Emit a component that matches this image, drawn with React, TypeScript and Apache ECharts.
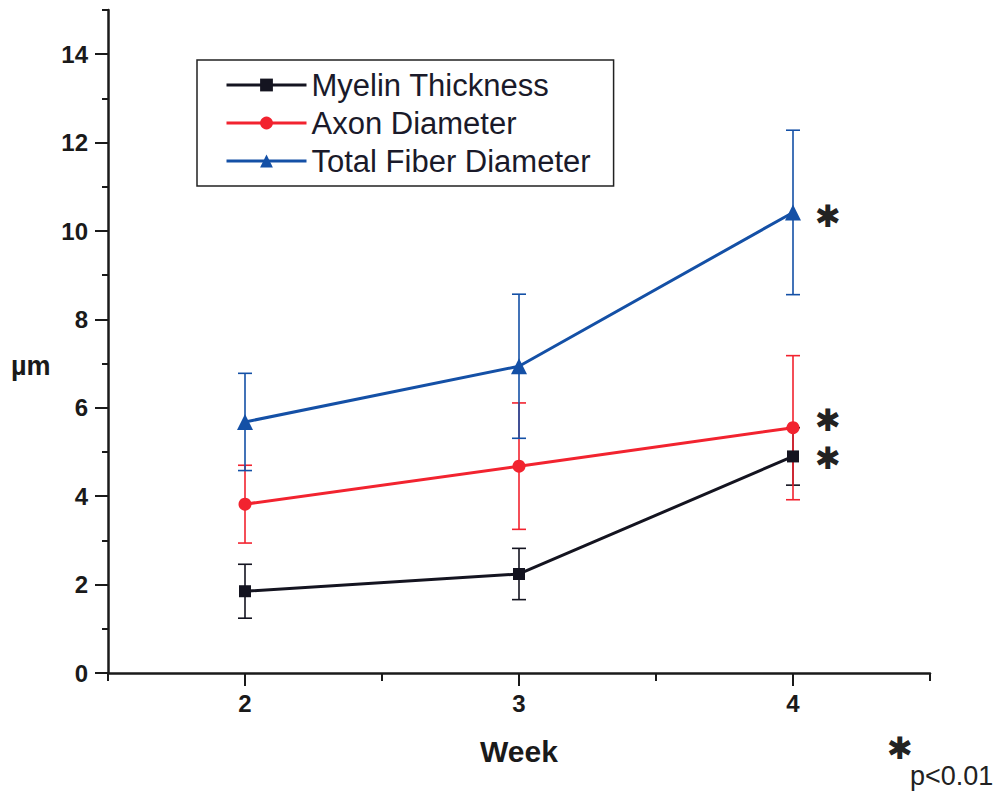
import React, { useEffect, useRef } from "react";
import * as echarts from "echarts";

// Weeks after injury and fiber measurements (µm), mean ± SD
const weeks = [2, 3, 4];
const myelinThickness = [1.85, 2.24, 4.9];
const myelinSD = [0.61, 0.58, 0.65];
const axonDiameter = [3.82, 4.68, 5.55];
const axonSD = [0.88, 1.43, 1.63];
const totalFiberDiameter = [5.68, 6.94, 10.42];
const totalFiberSD = [1.1, 1.63, 1.86];

const seriesNames = ["Myelin Thickness", "Axon Diameter", "Total Fiber Diameter"];
const colors = ["#141420", "#f2232f", "#1450a6"];
const symbols = ["rect", "circle", "triangle"];
const symbolSizes = [12, 13, 16];

const yTickLabels = [0, 2, 4, 6, 8, 10, 12, 14];
const xTickLabels = [2, 3, 4];

const FONT = "'Liberation Sans', Arial, sans-serif";

function errorBarSeries(name: string, values: number[], sd: number[], color: string) {
  const data = weeks.map((w, i) => [w, values[i] - sd[i], values[i] + sd[i]]);
  return {
    type: "custom",
    name: name + " SD",
    xAxisIndex: 0,
    yAxisIndex: 0,
    data,
    z: 1,
    silent: true,
    renderItem: (_params: any, api: any) => {
      const x = api.value(0);
      const lo = api.coord([x, api.value(1)]);
      const hi = api.coord([x, api.value(2)]);
      const half = 7;
      const style = { stroke: color, lineWidth: 1.6 };
      return {
        type: "group",
        children: [
          { type: "line", shape: { x1: lo[0], y1: lo[1], x2: hi[0], y2: hi[1] }, style },
          { type: "line", shape: { x1: lo[0] - half, y1: lo[1], x2: lo[0] + half, y2: lo[1] }, style },
          { type: "line", shape: { x1: hi[0] - half, y1: hi[1], x2: hi[0] + half, y2: hi[1] }, style },
        ],
      };
    },
  };
}

function lineSeries(idx: number, values: number[]) {
  return {
    type: "line",
    name: seriesNames[idx],
    xAxisIndex: 0,
    yAxisIndex: 0,
    data: weeks.map((w, i) => [w, values[i]]),
    symbol: symbols[idx],
    symbolSize: symbolSizes[idx],
    showAllSymbol: true,
    z: 3,
    lineStyle: { color: colors[idx], width: 3 },
    itemStyle: { color: colors[idx], borderWidth: 0 },
  };
}

// significance marks (p < 0.01), centred on (cx, cy)
function star(cx: number, cy: number) {
  return {
    type: "text",
    x: cx,
    y: cy,
    style: {
      text: "\u2731",
      font: `bold 31px 'DejaVu Sans', sans-serif`,
      align: "center",
      verticalAlign: "middle",
      fill: "#222",
    },
  };
}

export default function App() {
  const ref = useRef<HTMLDivElement>(null);

  useEffect(() => {
    if (!ref.current) return;
    const chart = echarts.init(ref.current, null, { renderer: "svg" });
    const axisColor = "#1a1a1a";

    chart.setOption({
      animation: false,
      backgroundColor: "#ffffff",
      textStyle: { fontFamily: FONT },
      grid: [
        // main plotting area
        { left: 108, right: 71, top: 10, bottom: 120 },
        // long y ticks and labels (0..14)
        { left: 108, right: 71, top: 54.2, bottom: 120 },
        // long x ticks and labels (2..4)
        { left: 245, right: 208, top: 10, bottom: 120 },
      ],
      xAxis: [
        {
          type: "value",
          gridIndex: 0,
          min: 1.5,
          max: 4.5,
          interval: 0.5,
          axisLine: { show: true, lineStyle: { color: axisColor, width: 2.5 } },
          axisTick: { show: true, length: 8, lineStyle: { color: axisColor, width: 2 } },
          axisLabel: { show: false },
          splitLine: { show: false },
        },
        { type: "value", gridIndex: 1, min: 1.5, max: 4.5, show: false },
        {
          type: "value",
          gridIndex: 2,
          min: 2,
          max: 4,
          interval: 1,
          axisLine: { show: false },
          axisTick: { show: true, length: 13, lineStyle: { color: axisColor, width: 2 } },
          axisLabel: {
            show: true,
            margin: 18,
            color: axisColor,
            fontFamily: FONT,
            fontWeight: "bold",
            fontSize: 24,
            formatter: (v: number) => (xTickLabels.includes(v) ? String(v) : ""),
          },
          splitLine: { show: false },
          name: "Week",
          nameLocation: "middle",
          nameGap: 63,
          nameTextStyle: { color: axisColor, fontFamily: FONT, fontWeight: "bold", fontSize: 30 },
        },
      ],
      yAxis: [
        {
          type: "value",
          gridIndex: 0,
          min: 0,
          max: 15,
          interval: 1,
          axisLine: { show: true, lineStyle: { color: axisColor, width: 2.5 } },
          axisTick: { show: true, length: 6, lineStyle: { color: axisColor, width: 2 } },
          axisLabel: { show: false },
          splitLine: { show: false },
        },
        {
          type: "value",
          gridIndex: 1,
          min: 0,
          max: 14,
          interval: 2,
          axisLine: { show: false },
          axisTick: { show: true, length: 13, lineStyle: { color: axisColor, width: 2 } },
          axisLabel: {
            show: true,
            margin: 20,
            color: axisColor,
            fontFamily: FONT,
            fontWeight: "bold",
            fontSize: 24,
            formatter: (v: number) => (yTickLabels.includes(v) ? String(v) : ""),
          },
          splitLine: { show: false },
        },
        { type: "value", gridIndex: 2, min: 0, max: 15, show: false },
      ],
      legend: {
        left: 197,
        top: 60,
        orient: "vertical",
        data: seriesNames,
        itemWidth: 80,
        itemHeight: 16,
        itemGap: 6,
        padding: [9, 23, 9, 28],
        borderColor: "#222",
        borderWidth: 1.5,
        lineStyle: { width: 3 },
        textStyle: { color: "#1a1a2a", fontFamily: FONT, fontSize: 31, lineHeight: 32 },
      },
      graphic: [
        {
          type: "text",
          left: 11,
          top: 352,
          style: { text: "µm", font: `bold 27px ${FONT}`, fill: "#1a1a1a" },
        },
        star(828, 216),
        star(828, 420),
        star(828, 458),
        star(900, 748),
        {
          type: "text",
          left: 910,
          top: 762,
          style: { text: "p<0.01", font: `27px ${FONT}`, fill: "#222" },
        },
      ],
      series: [
        errorBarSeries(seriesNames[0], myelinThickness, myelinSD, colors[0]),
        errorBarSeries(seriesNames[1], axonDiameter, axonSD, colors[1]),
        errorBarSeries(seriesNames[2], totalFiberDiameter, totalFiberSD, colors[2]),
        lineSeries(0, myelinThickness),
        lineSeries(1, axonDiameter),
        lineSeries(2, totalFiberDiameter),
      ],
    });

    return () => chart.dispose();
  }, []);

  return (
    <div
      ref={ref}
      style={{ position: "absolute", left: 0, top: 0, width: 1001, height: 793, background: "#fff" }}
    />
  );
}
